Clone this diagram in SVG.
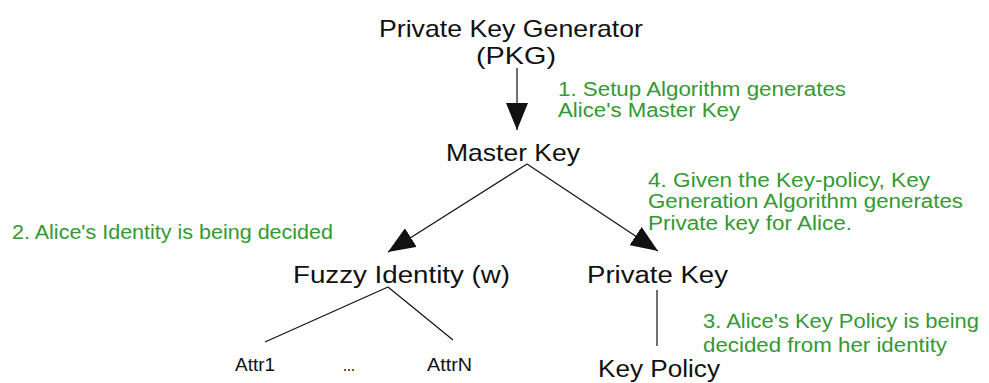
<svg xmlns="http://www.w3.org/2000/svg" width="989" height="383" viewBox="0 0 989 383">
<style>
.n{font-family:"Liberation Sans",Arial,sans-serif;fill:#111;font-size:24px}
.m{font-family:"Liberation Sans",Arial,sans-serif;fill:#111;font-size:23px}
.s{font-family:"Liberation Sans",Arial,sans-serif;fill:#111;font-size:19px}
.g{font-family:"Liberation Sans",Arial,sans-serif;fill:#339933;font-size:19.5px}
.l{stroke:#111;stroke-width:1.2;fill:none}
</style>
<defs>
<marker id="ah" viewBox="0 0 27 22" refX="27" refY="11" markerWidth="27" markerHeight="22" markerUnits="userSpaceOnUse" orient="auto">
<path d="M0,0 L27,11 L0,22 z" fill="#111"/>
</marker>
</defs>
<rect width="989" height="383" fill="#fff"/>
<g id="connectors">
<line class="l" x1="517" y1="68" x2="517" y2="130" marker-end="url(#ah)" stroke-width="1.6"/>
<line class="l" x1="527" y1="164" x2="388" y2="252" marker-end="url(#ah)"/>
<line class="l" x1="527" y1="164" x2="658" y2="251" marker-end="url(#ah)"/>
<line class="l" x1="388" y1="287" x2="265" y2="342"/>
<line class="l" x1="388" y1="287" x2="453" y2="340"/>
<line class="l" x1="657" y1="290" x2="657" y2="346" stroke-width="1.5"/>
</g>
<g id="pkg">
<text class="n" x="511" y="37" text-anchor="middle" textLength="264" lengthAdjust="spacingAndGlyphs">Private Key Generator</text>
<text class="n" x="516" y="64" text-anchor="middle" textLength="80" lengthAdjust="spacingAndGlyphs">(PKG)</text>
</g>
<g id="master-key"><text class="n" x="513" y="161" text-anchor="middle" textLength="134" lengthAdjust="spacingAndGlyphs">Master Key</text></g>
<g id="fuzzy-identity"><text class="m" x="293" y="283" textLength="217" lengthAdjust="spacingAndGlyphs">Fuzzy Identity (w)</text></g>
<g id="private-key"><text class="m" x="587" y="283" textLength="141" lengthAdjust="spacingAndGlyphs">Private Key</text></g>
<g id="attr1"><text class="s" x="235" y="371" textLength="40" lengthAdjust="spacingAndGlyphs">Attr1</text></g>
<g id="dots"><text class="s" x="343" y="371" textLength="12" lengthAdjust="spacingAndGlyphs">...</text></g>
<g id="attrn"><text class="s" x="427" y="371" textLength="45" lengthAdjust="spacingAndGlyphs">AttrN</text></g>
<g id="key-policy"><text class="m" x="598" y="377" textLength="122" lengthAdjust="spacingAndGlyphs">Key Policy</text></g>
<g id="labels">
<text class="g" x="558" y="96" textLength="288" lengthAdjust="spacingAndGlyphs">1. Setup Algorithm generates</text>
<text class="g" x="558" y="117" textLength="182" lengthAdjust="spacingAndGlyphs">Alice's Master Key</text>
<text class="g" x="648" y="187" textLength="282" lengthAdjust="spacingAndGlyphs">4. Given the Key-policy, Key</text>
<text class="g" x="648" y="208" textLength="315" lengthAdjust="spacingAndGlyphs">Generation Algorithm generates</text>
<text class="g" x="648" y="230" textLength="204" lengthAdjust="spacingAndGlyphs">Private key for Alice.</text>
<text class="g" x="12" y="239" textLength="321" lengthAdjust="spacingAndGlyphs">2. Alice's Identity is being decided</text>
<text class="g" x="703" y="328" textLength="276" lengthAdjust="spacingAndGlyphs">3. Alice's Key Policy is being</text>
<text class="g" x="703" y="352" textLength="244" lengthAdjust="spacingAndGlyphs">decided from her identity</text>
</g>
</svg>
